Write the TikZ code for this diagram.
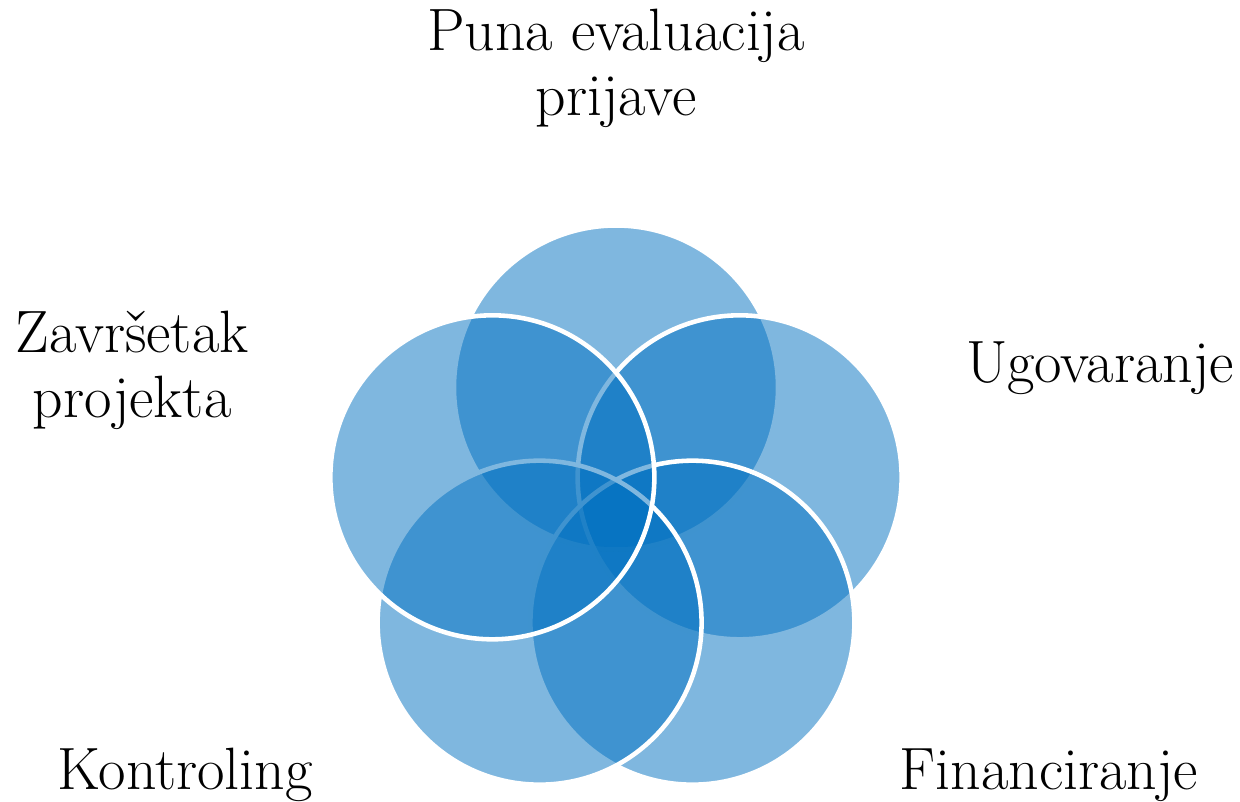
\documentclass[tikz,border=0pt]{standalone}
\usepackage{xcolor}
\usepackage{tikz}
\usetikzlibrary{positioning,calc}
\definecolor{vennblue}{HTML}{0070C0}

\begin{document}
\begin{tikzpicture}[
    venn/.style={circle, minimum size=3.24cm, inner sep=0pt, fill=vennblue, fill opacity=0.5, draw=white, draw opacity=1, line width=1.3pt},
    lbl/.style={font=\fontsize{17}{18.6}\selectfont, align=center, anchor=base, inner sep=0pt}
]
    \useasboundingbox (0,0) rectangle (12.4,8.02);
    % Centre of the pentagon
    \coordinate (mid) at (6.16,2.845);
    % Circles, drawn top first, then clockwise
    \foreach \ang/\name in {90/eval, 18/ugov, -54/fin, -126/kontr, 162/zavr}
        \node[venn] (\name) at ($(mid)+(\ang:1.3)$) {};
    % Labels (base = last line)
    \node[lbl] (evaltxt) at (6.16,6.86) {Puna evaluacija\\prijave};
    \node[lbl] (ugovtxt) at (11.00,4.19) {Ugovaranje};
    \node[lbl] (fintxt) at (10.49,0.12) {Financiranje};
    \node[lbl] (kontrtxt) at (1.85,0.12) {Kontroling};
    \node[lbl] (zavrtxt) at (1.32,3.84) {Završetak\\projekta};
\end{tikzpicture}
\end{document}
